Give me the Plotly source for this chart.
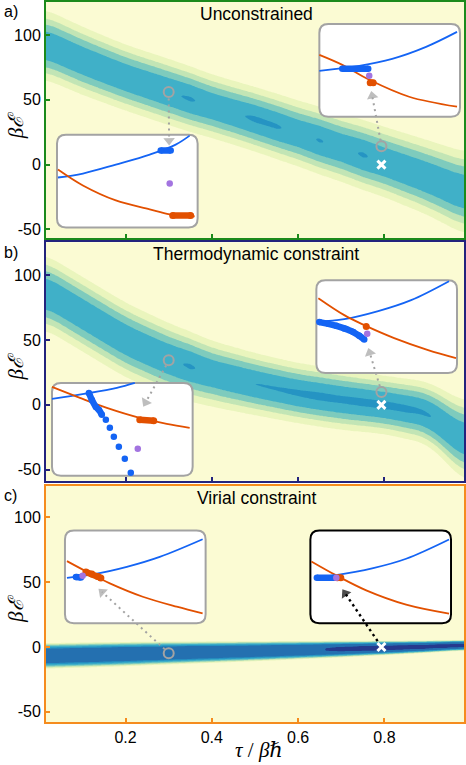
import numpy as np
import plotly.graph_objects as go

# ---------------------------------------------------------------------------
# Data
# ---------------------------------------------------------------------------
# density bands: centre / width on coarse tau knots, peak level on fine knots
TAU_KNOTS = [0.0, 0.1, 0.2, 0.3, 0.4, 0.5, 0.6, 0.7, 0.8, 0.9, 1.0]
TAU_FINE = [0.0, 0.05, 0.1, 0.15, 0.2, 0.25, 0.3, 0.35, 0.4, 0.45, 0.5,
            0.55, 0.6, 0.65, 0.7, 0.75, 0.8, 0.85, 0.9, 0.95, 1.0]

CENTER_A = [95, 80, 67, 56, 45, 35, 24, 13, 2, -10, -24]
WIDTH_A = [16, 15.5, 15, 15, 14.5, 14.5, 15, 15.5, 16, 17, 19]
PEAK_A = [0.88, 0.9, 0.9, 0.9, 0.9, 0.91, 0.93, 0.965, 0.9, 0.92, 0.975,
          0.965, 0.9, 0.96, 0.9, 0.965, 0.9, 0.9, 0.9, 0.9, 0.9]

CENTER_B = [90, 70, 50, 35, 24, 16, 9, 4, 0, -6, -32]
WIDTH_B = [17, 17, 17, 16.5, 15, 14, 13.5, 13.5, 13, 14, 19]
PEAK_B = [0.9, 0.9, 0.9, 0.9, 0.9, 0.9, 0.92, 0.965, 0.9, 0.93, 0.95,
          0.96, 0.98, 1.0, 0.99, 1.0, 1.0, 0.99, 0.96, 0.9, 0.88]

CENTER_C = [-7, -6.3, -5.5, -4.7, -4.0, -3.3, -2.5, -1.7, -0.8, 0.2, 1.5]
WIDTH_C = [7.2, 7.0, 6.8, 6.4, 6.0, 5.6, 5.1, 4.6, 4.0, 3.4, 2.8]
PEAK_C = [1.9, 1.95, 2.0, 2.0, 2.0, 2.0, 2.0, 2.0, 2.0, 2.0, 2.0,
          2.05, 2.1, 2.18, 2.26, 2.3, 2.32, 2.32, 2.32, 2.33, 2.33]

# open circles and white crosses on the main panels
CIRCLES_A = [(0.3, 56), (0.793, 14.1)]
CIRCLES_B = [(0.3, 34.4), (0.793, 10.0)]
CIRCLES_C = [(0.3, -4.8)]
CROSS = (0.793, 0)

# dotted arrows: (start, arrow-head centre)
ARROWS_A = [((0.3, 51), (0.301, 18.5)), ((0.791, 18.5), (0.7716, 53))]
ARROWS_B = [((0.294, 30.4), (0.2466, 1.95)), ((0.7892, 14.4), (0.766, 40.2))]
ARROWS_C = [((0.2905, -1.7), (0.1458, 42.3)), ((0.7841, 4.5), (0.709, 41.3))]

# insets (local units)
A1_BLUE = [(1, 50), (26, 54), (59, 63), (93, 73), (119, 83), (133, 92)]
A1_ORANGE = [(1, 58), (26, 42), (59, 27), (93, 18), (113, 13), (138, 11)]
A1_BLUE_RUN = [(104, 77), (114, 77)]
A1_ORANGE_RUN = [(116, 12), (134, 12)]
A1_PURPLE = (113, 44)

A2_BLUE = [(0, 46), (40, 51), (73, 58), (107, 70), (138, 85)]
A2_ORANGE = [(0, 62), (23, 52), (50, 37), (90, 20), (138, 10)]
A2_BLUE_RUN = [(23, 48), (49, 48)]
A2_ORANGE_RUN = [(51, 34), (54, 34)]
A2_PURPLE = (50, 41)

B1_BLUE = [(0, 77), (32, 82), (65, 88), (83, 93)]
B1_ORANGE = [(0, 89), (28, 78), (55, 68), (88, 58), (115, 52), (138, 48)]
B1_BLUE_RUN = [(37, 83), (40, 76), (44, 69), (47, 66), (50, 61)]
B1_BLUE_DOTS = [(54, 56), (58, 48), (62, 39), (67, 29), (73, 17), (79, 3)]
B1_ORANGE_RUN = [(88, 56), (102, 55)]
B1_PURPLE = (86, 27)

B2_BLUE = [(0, 51.5), (28, 54), (62, 62), (95, 73), (133, 92)]
B2_ORANGE = [(2, 75), (28, 58), (48, 48), (78, 35), (112, 23), (140, 15)]
B2_BLUE_RUN = [(3, 51), (12, 49.3), (20, 47.3), (28, 44.7), (37, 41), (43, 37.3), (48, 33.5)]
B2_ORANGE_RUN = [(50, 46.7)]
B2_PURPLE = (51, 39.3)

C1_BLUE = [(2, 45.6), (28, 49), (62, 56.6), (95, 66.6), (138, 84.3)]
C1_ORANGE = [(2, 62.3), (22, 51.6), (45, 40), (78, 26.6), (112, 16.6), (138, 10)]
C1_BLUE_RUN = [(11, 46.5), (16, 46)]
C1_ORANGE_RUN = [(21, 51.5), (27, 49.5), (33, 47), (36, 45.5)]
C1_PURPLE = (17.7, 47.6)

C2_BLUE = [(4, 45.7), (24, 48), (63, 55.3), (96, 64.7), (139, 84)]
C2_ORANGE = [(1, 62), (26, 48), (56, 33), (96, 18.7), (139, 9.7)]
C2_BLUE_RUN = [(6.5, 45.7), (24.5, 45.7)]
C2_ORANGE_RUN = [(27, 45.7), (30.5, 45.7)]
C2_PURPLE = (26, 45.7)

# ---------------------------------------------------------------------------
# Style / layout constants
# ---------------------------------------------------------------------------
FIG_W, FIG_H = 466, 765
PLOT_LEFT, PLOT_RIGHT, PLOT_TOP, PLOT_BOTTOM = 46, 465, 0, 722
X_RANGE = [1 / 64, 63 / 64]

PANEL_PX = [(0, 237), (241, 480), (485, 722)]
Y_RANGES = [(-56.9, 125.4), (-58.5, 125.4), (-57.9, 124.4)]
FRAME_COLOURS = ["#1b8a1b", "#23237d", "#f58c1e"]
PROFILE_POWER = [2, 2, 4]

LEVEL_EDGES = [0, 0.05, 0.15, 0.3, 0.55, 0.95, 1.3, 2.2, 5.0]
BAND_COLOURS = ["#fbfbd3", "#eaf5bd", "#c2e5b5", "#7ecbbd",
                "#40b0c8", "#2594c3", "#2470b0", "#253a8e"]

COLOUR_BLUE = "#1464f4"
COLOUR_ORANGE = "#e25000"
COLOUR_PURPLE = "#a374e0"
COLOUR_GREY = "#a3a3a3"

INSET_W, INSET_H, INSET_R = 141, 93, 9
# (left px, top px, panel index, border colour)
INSET_BOXES = [(57, 133, 0, COLOUR_GREY), (320, 22, 0, COLOUR_GREY),
               (52, 382, 1, COLOUR_GREY), (317, 279, 1, COLOUR_GREY),
               (65, 530, 2, COLOUR_GREY), (311, 530, 2, "black")]

FONT = "Liberation Sans, Arial, sans-serif"
SERIF = "Liberation Serif, DejaVu Serif, serif"


def px_x(px):
    return (px - PLOT_LEFT) / (PLOT_RIGHT - PLOT_LEFT)


def px_y(py):
    return (PLOT_BOTTOM - py) / (PLOT_BOTTOM - PLOT_TOP)


def _smooth(v, k=13):
    padded = np.pad(v, k // 2, mode="edge")
    return np.convolve(padded, np.ones(k) / k, mode="valid")


def band_levels(center, width, peak, power, tau, energy):
    c = _smooth(np.interp(tau, TAU_KNOTS, center))
    w = _smooth(np.interp(tau, TAU_KNOTS, width))
    p = np.interp(tau, TAU_FINE, peak)
    d = np.abs(energy[:, None] - c[None, :]) / w[None, :]
    z = p[None, :] * np.exp(-d ** power)
    return np.interp(z, LEVEL_EDGES, list(range(len(LEVEL_EDGES))))


def xs(pts):
    return [p[0] for p in pts]


def ys(pts):
    return [p[1] for p in pts]


tau_grid = np.linspace(X_RANGE[0], X_RANGE[1], 200)
e_grid = np.linspace(-60, 127, 260)

fig = go.Figure()
layout = {}
n_levels = len(BAND_COLOURS)
colorscale = [[i / (n_levels - 1), c] for i, c in enumerate(BAND_COLOURS)]

bands = [(CENTER_A, WIDTH_A, PEAK_A), (CENTER_B, WIDTH_B, PEAK_B), (CENTER_C, WIDTH_C, PEAK_C)]

# ---------------------------------------------------------------------------
# Main panels
# ---------------------------------------------------------------------------
for i, (center, width, peak) in enumerate(bands):
    suffix = "" if i == 0 else str(i + 1)
    top, bottom = PANEL_PX[i]
    dom_y = [px_y(bottom), px_y(top)]
    col = FRAME_COLOURS[i]
    z = band_levels(center, width, peak, PROFILE_POWER[i], tau_grid, e_grid)
    fig.add_trace(go.Contour(
        x=tau_grid, y=e_grid, z=z,
        xaxis="x" + suffix, yaxis="y" + suffix,
        colorscale=colorscale, autocontour=False,
        contours=dict(start=1, end=n_levels - 1, size=1, coloring="fill", showlines=False),
        line=dict(width=0), showscale=False, hoverinfo="skip",
    ))
    layout["xaxis" + suffix] = dict(
        domain=[0, 1], anchor="y" + suffix, range=X_RANGE,
        showline=True, mirror=True, linecolor=col, linewidth=2,
        ticks="inside", ticklen=4, tickwidth=1.5, tickcolor=col,
        tickvals=[0.2, 0.4, 0.6, 0.8], ticktext=["0.2", "0.4", "0.6", "0.8"],
        showticklabels=(i == 2), tickfont=dict(family=FONT, size=16, color="black"),
        showgrid=False, zeroline=False, fixedrange=True,
    )
    layout["yaxis" + suffix] = dict(
        domain=dom_y, anchor="x" + suffix, range=list(Y_RANGES[i]),
        showline=True, mirror=True, linecolor=col, linewidth=2,
        ticks="inside", ticklen=4, tickwidth=1.5, tickcolor=col,
        tickvals=[-50, 0, 50, 100], ticktext=["-50", "0", "50", "100"],
        tickfont=dict(family=FONT, size=16, color="black"),
        showgrid=False, zeroline=False, fixedrange=True,
    )

# ---------------------------------------------------------------------------
# Insets
# ---------------------------------------------------------------------------
insets = [
    (A1_BLUE, A1_ORANGE, A1_BLUE_RUN, A1_ORANGE_RUN, A1_PURPLE, None),
    (A2_BLUE, A2_ORANGE, A2_BLUE_RUN, A2_ORANGE_RUN, A2_PURPLE, None),
    (B1_BLUE, B1_ORANGE, B1_BLUE_RUN, B1_ORANGE_RUN, B1_PURPLE, B1_BLUE_DOTS),
    (B2_BLUE, B2_ORANGE, B2_BLUE_RUN, B2_ORANGE_RUN, B2_PURPLE, None),
    (C1_BLUE, C1_ORANGE, C1_BLUE_RUN, C1_ORANGE_RUN, C1_PURPLE, None),
    (C2_BLUE, C2_ORANGE, C2_BLUE_RUN, C2_ORANGE_RUN, C2_PURPLE, None),
]

shapes = []
w, h, r = INSET_W, INSET_H, INSET_R
box_path = (f"M {r},0 L {w - r},0 Q {w},0 {w},{r} L {w},{h - r} Q {w},{h} {w - r},{h} "
            f"L {r},{h} Q 0,{h} 0,{h - r} L 0,{r} Q 0,0 {r},0 Z")

for k, (blue, orange, blue_run, orange_run, purple, blue_dots) in enumerate(insets):
    n = str(4 + k)
    left, top, _, border = INSET_BOXES[k]
    layout["xaxis" + n] = dict(domain=[px_x(left - 2), px_x(left + w + 2)], anchor="y" + n,
                               range=[-2, w + 2], visible=False, fixedrange=True)
    layout["yaxis" + n] = dict(domain=[px_y(top + h + 2), px_y(top - 2)], anchor="x" + n,
                               range=[-2, h + 2], visible=False, fixedrange=True)
    shapes.append(dict(type="path", path=box_path, xref="x" + n, yref="y" + n, layer="below",
                       fillcolor="white", line=dict(color=border, width=2)))
    ax = dict(xaxis="x" + n, yaxis="y" + n, showlegend=False, hoverinfo="skip")
    fig.add_trace(go.Scatter(x=xs(blue), y=ys(blue), mode="lines",
                             line=dict(color=COLOUR_BLUE, width=1.8, shape="spline"), **ax))
    fig.add_trace(go.Scatter(x=xs(orange), y=ys(orange), mode="lines",
                             line=dict(color=COLOUR_ORANGE, width=1.8, shape="spline"), **ax))
    fig.add_trace(go.Scatter(x=xs(blue_run), y=ys(blue_run), mode="lines+markers",
                             line=dict(color=COLOUR_BLUE, width=6.5, shape="spline"),
                             marker=dict(color=COLOUR_BLUE, size=6.5), **ax))
    if blue_dots:
        fig.add_trace(go.Scatter(x=xs(blue_dots), y=ys(blue_dots), mode="markers",
                                 marker=dict(color=COLOUR_BLUE, size=6.5), **ax))
    fig.add_trace(go.Scatter(x=xs(orange_run), y=ys(orange_run), mode="lines+markers",
                             line=dict(color=COLOUR_ORANGE, width=6.5),
                             marker=dict(color=COLOUR_ORANGE, size=7), **ax))
    fig.add_trace(go.Scatter(x=[purple[0]], y=[purple[1]], mode="markers",
                             marker=dict(color=COLOUR_PURPLE, size=6.5), **ax))

# ---------------------------------------------------------------------------
# Overlays with circles, crosses and dotted arrows (drawn above the insets)
# ---------------------------------------------------------------------------
overlay = [(CIRCLES_A, ARROWS_A, [COLOUR_GREY, COLOUR_GREY]),
           (CIRCLES_B, ARROWS_B, [COLOUR_GREY, COLOUR_GREY]),
           (CIRCLES_C, ARROWS_C, [COLOUR_GREY, "black"])]

for i, (circles, arrows, arrow_cols) in enumerate(overlay):
    n = str(10 + i)
    top, bottom = PANEL_PX[i]
    layout["xaxis" + n] = dict(domain=[0, 1], anchor="y" + n, range=X_RANGE,
                               visible=False, fixedrange=True)
    layout["yaxis" + n] = dict(domain=[px_y(bottom), px_y(top)], anchor="x" + n,
                               range=list(Y_RANGES[i]), visible=False, fixedrange=True)
    ax = dict(xaxis="x" + n, yaxis="y" + n, showlegend=False, hoverinfo="skip")
    for (start, end), col in zip(arrows, arrow_cols):
        dark = col == "black"
        fig.add_trace(go.Scatter(
            x=[start[0], end[0]], y=[start[1], end[1]], mode="lines+markers",
            line=dict(color=col, width=2.4 if dark else 2, dash="2.5px,3.5px" if dark else "2px,4px"),
            marker=dict(symbol="triangle-up", size=[0, 10], color=col, angleref="previous",
                        line=dict(width=0)),
            **ax))
    fig.add_trace(go.Scatter(x=xs(circles), y=ys(circles), mode="markers",
                             marker=dict(symbol="circle-open", size=10, color=COLOUR_GREY,
                                         line=dict(width=2, color=COLOUR_GREY)), **ax))
    fig.add_trace(go.Scatter(x=[CROSS[0]], y=[CROSS[1]], mode="markers",
                             marker=dict(symbol="x-thin", size=8, color="white",
                                         line=dict(width=3, color="white")), **ax))

# ---------------------------------------------------------------------------
# Text
# ---------------------------------------------------------------------------
annotations = []
for label, title, (top, bottom) in zip(["a)", "b)", "c)"],
                                       ["Unconstrained", "Thermodynamic constraint", "Virial constraint"],
                                       PANEL_PX):
    annotations.append(dict(text=label, x=px_x(2), y=px_y(top + 10), xref="paper", yref="paper",
                            xanchor="left", yanchor="middle", showarrow=False,
                            font=dict(family=FONT, size=16, color="black")))
    annotations.append(dict(text=title, x=px_x(257), y=px_y(top + 12), xref="paper", yref="paper",
                            xanchor="center", yanchor="middle", showarrow=False,
                            font=dict(family=FONT, size=17.5, color="black")))
    annotations.append(dict(text="<i>βℰ</i>", x=px_x(16), y=px_y((top + bottom) / 2 + 5),
                            xref="paper", yref="paper", xanchor="center", yanchor="middle",
                            textangle=-90, showarrow=False,
                            font=dict(family=SERIF, size=21, color="black")))
annotations.append(dict(text="<i>τ</i> / <i>βℏ</i>", x=px_x(260), y=px_y(750), xref="paper",
                        yref="paper", xanchor="center", yanchor="middle", showarrow=False,
                        font=dict(family=SERIF, size=21, color="black")))

fig.update_layout(
    width=FIG_W, height=FIG_H,
    margin=dict(l=PLOT_LEFT, r=FIG_W - PLOT_RIGHT, t=PLOT_TOP, b=FIG_H - PLOT_BOTTOM),
    paper_bgcolor="white", plot_bgcolor="rgba(0,0,0,0)",
    showlegend=False, hovermode=False,
    shapes=shapes, annotations=annotations,
    **layout,
)

# the page body has a default margin; remove it so the figure sits at the window origin
fig.write_html("out.html", config={"displayModeBar": False},
               post_script="document.body.style.margin='0px';")
